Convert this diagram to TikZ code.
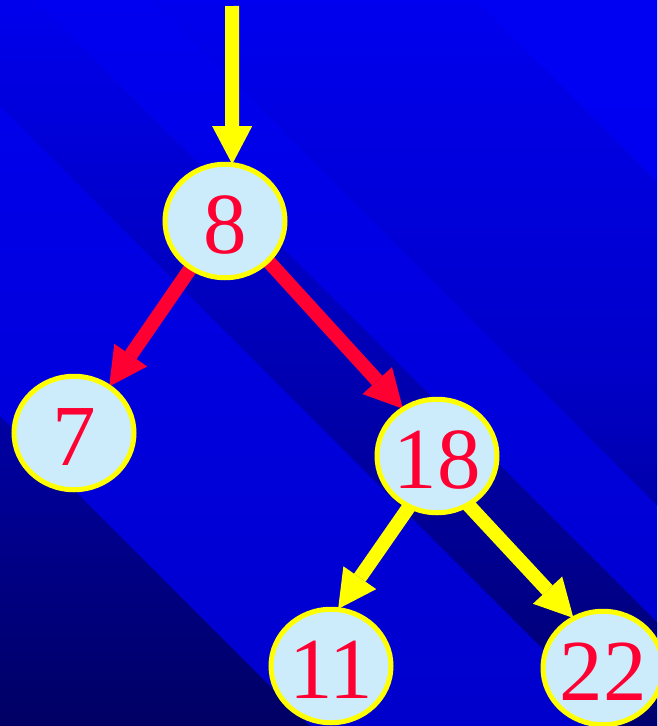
\documentclass[tikz,border=0pt]{standalone}
\usepackage{fontspec}
\setmainfont{Liberation Serif}
\usetikzlibrary{shapes.geometric, arrows.meta}
\definecolor{keyred}{RGB}{255,0,51}
\definecolor{keyfill}{RGB}{204,236,252}
\definecolor{keyyellow}{RGB}{255,255,0}
\definecolor{bglighttop}{RGB}{0,0,240}
\definecolor{bglightbot}{RGB}{0,0,204}
\pgfdeclarelayer{front}
\pgfsetlayers{main,front}
\newcommand{\keynum}[1]{\raisebox{-32pt}[0pt][0pt]{\makebox[0pt]{#1}}}
\tikzset{tnode/.style={ellipse, draw=keyyellow, line width=5pt, fill=keyfill, inner sep=0pt, minimum width=120pt, minimum height=113.5pt, text=keyred, font=\fontsize{87}{87}\selectfont}}
\tikzset{redarrow/.style={draw=keyred, line width=14pt, -{Triangle[length=38pt, width=40pt, line width=0pt]}, shorten >=-2pt}}
\tikzset{yelarrow/.style={redarrow, draw=keyyellow}}

\begin{document}
\begin{tikzpicture}[x=1pt, y=-1pt]
    \useasboundingbox (0,0) rectangle (657,726);
    \clip (0,0) rectangle (657,726);
    % diagonal bands
    \shade[top color=bglighttop, bottom color=bglightbot] (0,0) rectangle (657,726);
    \foreach \ca/\cb/\tc/\mc/\bc in {475/2000/243/238/234, 152/475/238/202/120, -106/35/237/180/110, -1500/-416/232/175/100} {
        \definecolor{bandtop}{RGB}{0,0,\tc}
        \definecolor{bandmid}{RGB}{0,0,\mc}
        \definecolor{bandbot}{RGB}{0,0,\bc}
        \begin{scope}
            \clip ({\ca-50},-50) -- ({\ca+800},800) -- ({\cb+800},800) -- ({\cb-50},-50) -- cycle;
            \shade[top color=bandtop, bottom color=bandbot, middle color=bandmid] (0,0) rectangle (657,726);
        \end{scope}
    }
    \begin{pgfonlayer}{front}
        \node[tnode] (n8) at (225,221) {\keynum{8}};
        \node[tnode] (n7) at (74,433) {\keynum{7}};
        \node[tnode] (n18) at (437,456) {\keynum{18}};
        \node[tnode] (n11) at (331,666) {\keynum{11}};
        \node[tnode] (n22) at (603,668) {\keynum{22}};
    \end{pgfonlayer}
    \coordinate (in) at (232,6);
    \draw[yelarrow] (in) -- (n8.83);
    \begin{scope}[shorten <=-8pt]
        \draw[redarrow] (n8.234) -- (n7.53);
        \draw[redarrow] (n8.317) -- (n18.126);
        \draw[yelarrow] (n18.241) -- (n11.82);
        \draw[yelarrow] (n18.303) -- (n22.121);
    \end{scope}
\end{tikzpicture}
\end{document}
